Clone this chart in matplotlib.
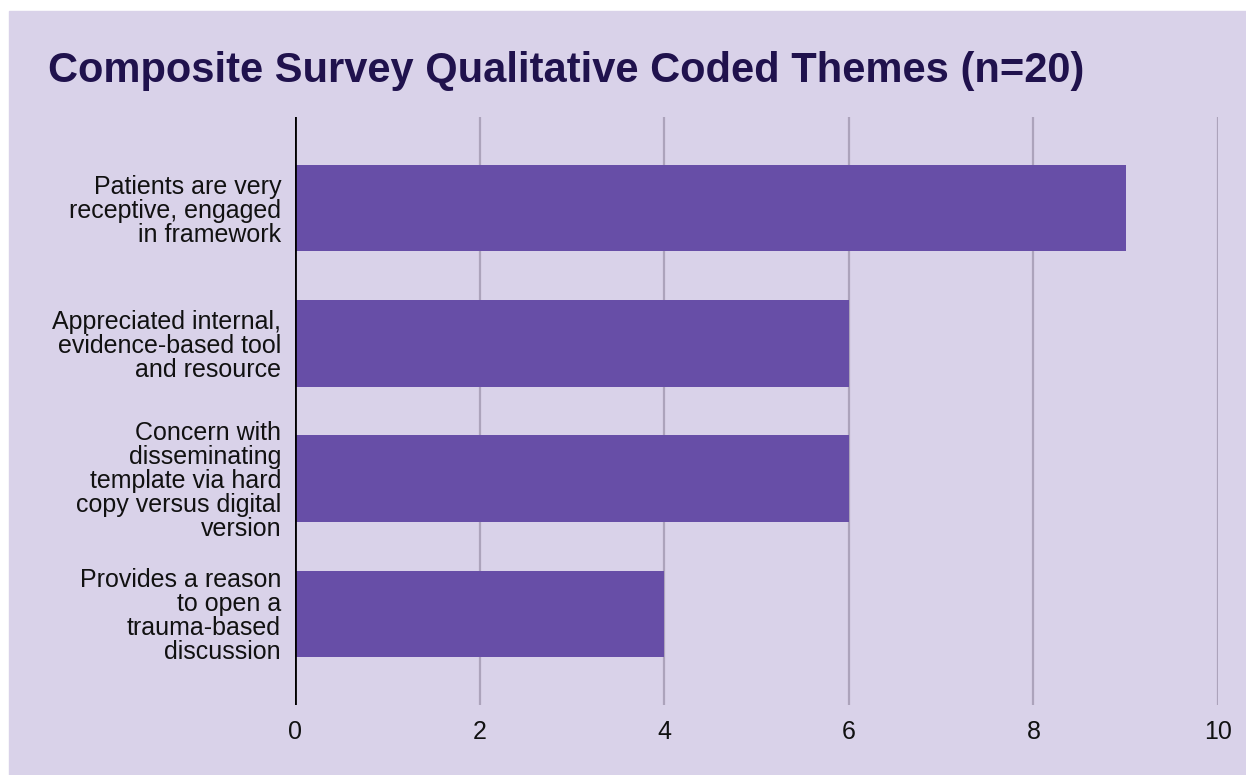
import matplotlib.pyplot as plt

# coded themes and how many respondents mentioned each
themes = [
    "Patients are very\nreceptive, engaged\nin framework",
    "Appreciated internal,\nevidence-based tool\nand resource",
    "Concern with\ndisseminating\ntemplate via hard\ncopy versus digital\nversion",
    "Provides a reason\nto open a\ntrauma-based\ndiscussion",
]
counts = [9, 6, 6, 4]
xticks = [0, 2, 4, 6, 8, 10]

bg = "#d9d2e9"
bar_color = "#674ea7"
title_color = "#20124d"

plt.rcParams["font.family"] = ["Liberation Sans", "DejaVu Sans"]

fig = plt.figure(figsize=(12.46, 7.75), dpi=100)
fig.patch.set_facecolor("white")
# lavender panel with a thin white margin top/left
fig.patches.append(plt.Rectangle((9 / 1246, 0), 1, 1 - 11 / 775,
                                 transform=fig.transFigure, color=bg, zorder=-10))

ax = fig.add_axes([295 / 1246, 1 - 705 / 775, (1218 - 295) / 1246, (705 - 117) / 775])
ax.set_facecolor(bg)

y = list(range(len(themes)))
ax.barh(y, counts, height=0.64, color=bar_color, zorder=3)

ax.set_xlim(0, 10)
ax.set_ylim(3.675, -0.675)
ax.set_xticks(xticks)
ax.set_xticklabels([str(t) for t in xticks], fontsize=18, color="#111111")
ax.set_yticks(y)
ax.set_yticklabels(themes, fontsize=18, color="#111111", linespacing=1.0)
ax.tick_params(axis="both", length=0)
ax.tick_params(axis="x", pad=11)
ax.tick_params(axis="y", pad=10)

for s in ax.spines.values():
    s.set_visible(False)
ax.grid(axis="x", color="#aca3bb", linewidth=1.6, zorder=1)
ax.axvline(0, color="black", linewidth=2, zorder=4)

fig.text(48 / 1246, 1 - 71 / 775, "Composite Survey Qualitative Coded Themes (n=20)",
         fontsize=30, fontweight="bold", color=title_color, va="center", ha="left")

fig.savefig("out.png", dpi=100)
